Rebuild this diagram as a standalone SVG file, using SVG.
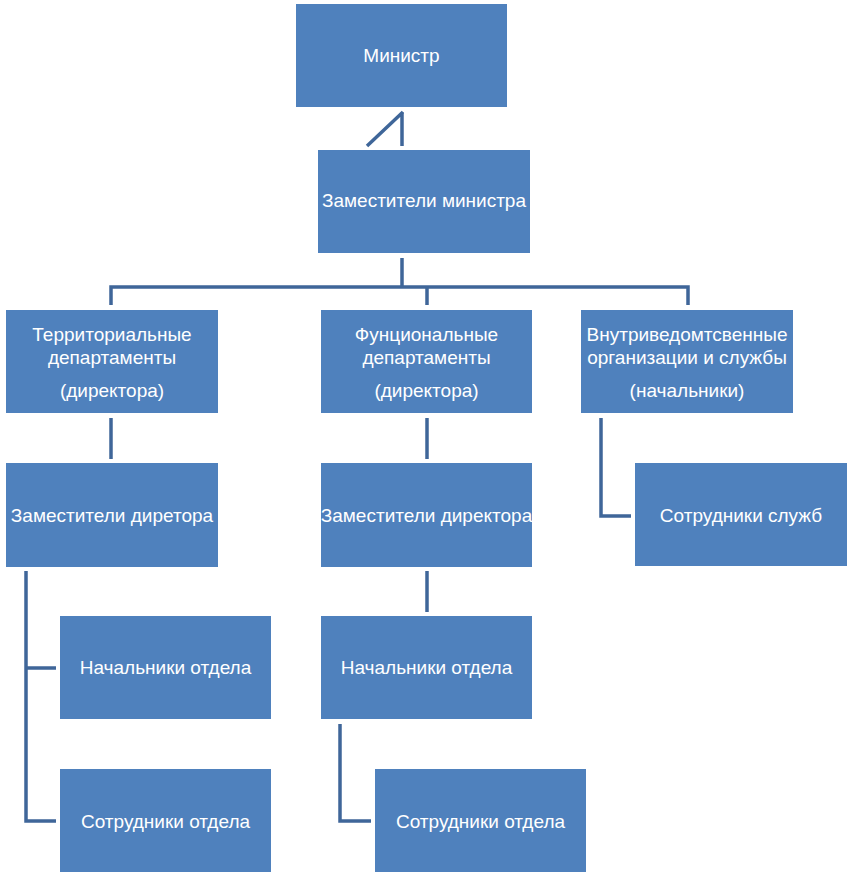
<svg xmlns="http://www.w3.org/2000/svg" width="855" height="877" viewBox="0 0 855 877">
<style>
.box{fill:#4F81BD}
.t{fill:#FFFFFF;font-family:"Liberation Sans",Arial,sans-serif;font-size:19px;text-anchor:middle}
.c{fill:none;stroke:#3F6699;stroke-width:3.5}
</style>
<rect width="855" height="877" fill="#FFFFFF"/>
<g id="connectors">
<path class="c" d="M402,112 V146 M403,112 L367,146"/>
<path class="c" d="M402,258 V287 M111,305 V287 H688 V305 M427,287 V305"/>
<path class="c" d="M111,418 V459"/>
<path class="c" d="M427,418 V459"/>
<path class="c" d="M601,418 V516 H631"/>
<path class="c" d="M26,571 V821 H56 M26,668 H56"/>
<path class="c" d="M427,571 V612"/>
<path class="c" d="M340,724 V821 H371"/>
</g>
<g id="minister"><rect class="box" x="296" y="4" width="211" height="103"/><text class="t" x="401.5" y="62">Министр</text></g>
<g id="deputy-ministers"><rect class="box" x="318" y="150" width="212" height="103"/><text class="t" x="424" y="207">Заместители министра</text></g>
<g id="territorial"><rect class="box" x="6" y="310" width="212" height="103"/><text class="t" x="112" y="341">Территориальные</text><text class="t" x="112" y="364">департаменты</text><text class="t" x="112" y="397">(директора)</text></g>
<g id="functional"><rect class="box" x="321" y="310" width="211" height="103"/><text class="t" x="426.5" y="341">Фунциональные</text><text class="t" x="426.5" y="364">департаменты</text><text class="t" x="426.5" y="397">(директора)</text></g>
<g id="internal"><rect class="box" x="581" y="310" width="212" height="103"/><text class="t" x="687" y="341">Внутриведомтсвенные</text><text class="t" x="687" y="364">организации и службы</text><text class="t" x="687" y="397">(начальники)</text></g>
<g id="deputy-dir-1"><rect class="box" x="6" y="463" width="212" height="104"/><text class="t" x="112" y="522">Заместители диретора</text></g>
<g id="deputy-dir-2"><rect class="box" x="321" y="463" width="211" height="104"/><text class="t" x="426.5" y="522">Заместители директора</text></g>
<g id="service-staff"><rect class="box" x="635" y="463" width="212" height="103"/><text class="t" x="741" y="522">Сотрудники служб</text></g>
<g id="heads-1"><rect class="box" x="60" y="616" width="211" height="103"/><text class="t" x="165.5" y="674">Начальники отдела</text></g>
<g id="heads-2"><rect class="box" x="321" y="616" width="211" height="103"/><text class="t" x="426.5" y="674">Начальники отдела</text></g>
<g id="staff-1"><rect class="box" x="60" y="769" width="211" height="103"/><text class="t" x="165.5" y="828">Сотрудники отдела</text></g>
<g id="staff-2"><rect class="box" x="375" y="769" width="211" height="103"/><text class="t" x="480.5" y="828">Сотрудники отдела</text></g>
</svg>
